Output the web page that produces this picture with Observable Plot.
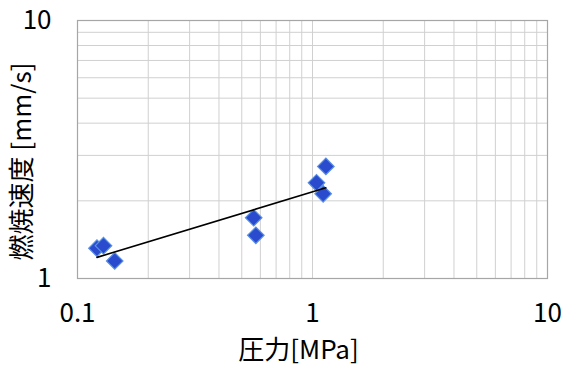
<!DOCTYPE html>
<html>
<head>
<meta charset="utf-8">
<script src="https://cdn.jsdelivr.net/npm/d3@7"></script>
<script src="https://cdn.jsdelivr.net/npm/@observablehq/plot@0.6"></script>
<style>
  html, body { margin: 0; padding: 0; background: #fff; }
  #chart svg { display: block; }
</style>
</head>
<body>
<div id="chart"></div>
<script>
// Data (pressure MPa, burning rate mm/s)
const pressure = [0.121, 0.129, 0.144, 0.562, 0.574, 1.14, 1.04, 1.11];
const burnRate = [1.31, 1.34, 1.17, 1.72, 1.47, 2.72, 2.35, 2.13];
const xTicks = [0.1, 1, 10];
const yTicks = [1, 10];
const xLabel = "圧力[MPa]";
const yLabel = "燃焼速度 [mm/s]";

const data = pressure.map((p, i) => ({p, r: burnRate[i]}));

// Power-law trendline (least squares in log-log space)
const lx = pressure.map(Math.log10), ly = burnRate.map(Math.log10);
const mx = d3.mean(lx), my = d3.mean(ly);
const b = d3.sum(lx, (v, i) => (v - mx) * (ly[i] - my)) / d3.sum(lx, v => (v - mx) ** 2);
const a = my - b * mx;
const [xmin, xmax] = d3.extent(pressure);
const trend = [xmin, xmax].map(p => ({p, r: 10 ** (a + b * Math.log10(p))}));

const minorX = [];
for (const d of [0.1, 1]) for (let k = 1; k <= 10; k++) minorX.push(+(d * k).toPrecision(3));
const minorY = [];
for (let k = 1; k <= 10; k++) minorY.push(k);

const font = "Noto Sans CJK JP";

const chart = Plot.plot({
  width: 563,
  height: 367,
  marginLeft: 77,
  marginRight: 16,
  marginTop: 20,
  marginBottom: 89,
  x: { type: "log", domain: [0.1, 10] },
  y: { type: "log", domain: [1, 10] },
  marks: [
    Plot.gridX(minorX, { stroke: "#d0d0d0", strokeOpacity: 1, strokeWidth: 1 }),
    Plot.gridY(minorY, { stroke: "#d0d0d0", strokeOpacity: 1, strokeWidth: 1 }),
    Plot.frame({ stroke: "#a6a6a6", strokeWidth: 1.2 }),
    Plot.axisX(xTicks, { tickSize: 0, tickPadding: 25, tickFormat: d => String(d), label: null, fontSize: 26, fontFamily: font, fill: "#000" }),
    Plot.axisY(yTicks, { tickSize: 0, tickPadding: 26, tickFormat: d => String(d), label: null, fontSize: 26, fontFamily: font, fill: "#000" }),
    Plot.text([xLabel], { frameAnchor: "bottom", lineAnchor: "middle", textAnchor: "middle", dy: 72, dx: -14, fontSize: 26, fontFamily: font, fill: "#000", text: d => d }),
    Plot.text([yLabel], { frameAnchor: "left", textAnchor: "middle", lineAnchor: "middle", rotate: -90, dx: -55, dy: 12, fontSize: 26, fontFamily: font, fill: "#000", text: d => d }),
    Plot.dot(data, { x: "p", y: "r", symbol: "square", rotate: 45, r: 6.6, fill: "#2b4bcf", stroke: "#5a8fe2", strokeWidth: 1.2 }),
    Plot.line(trend, { x: "p", y: "r", stroke: "#000", strokeWidth: 1.6 })
  ]
});
document.getElementById("chart").append(chart);
</script>
</body>
</html>
